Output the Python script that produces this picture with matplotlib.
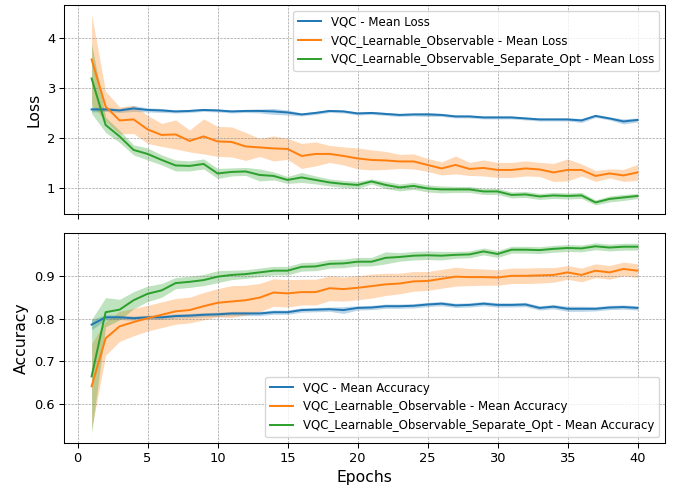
import numpy as np
import matplotlib.pyplot as plt

epochs = np.arange(1, 41)

# mean / std loss per model
vqc_loss = [2.57, 2.57, 2.55, 2.59, 2.56, 2.55, 2.53, 2.54, 2.56, 2.55,
            2.53, 2.54, 2.54, 2.53, 2.51, 2.47, 2.50, 2.54, 2.53, 2.49,
            2.50, 2.48, 2.46, 2.47, 2.47, 2.46, 2.43, 2.43, 2.41, 2.41,
            2.41, 2.39, 2.37, 2.37, 2.37, 2.35, 2.44, 2.39, 2.33, 2.36]
vqc_loss_std = [0.05, 0.04, 0.04, 0.06, 0.04, 0.04, 0.03, 0.03, 0.03, 0.03,
                0.03, 0.03, 0.04, 0.06, 0.05, 0.03, 0.03, 0.03, 0.03, 0.03,
                0.03, 0.03, 0.03, 0.03, 0.04, 0.03, 0.03, 0.03, 0.03, 0.03,
                0.03, 0.03, 0.03, 0.03, 0.03, 0.04, 0.03, 0.03, 0.05, 0.04]

lo_loss = [3.57, 2.63, 2.35, 2.37, 2.17, 2.06, 2.07, 1.94, 2.03, 1.93,
           1.92, 1.83, 1.81, 1.79, 1.78, 1.64, 1.68, 1.68, 1.64, 1.59,
           1.56, 1.55, 1.53, 1.53, 1.46, 1.39, 1.46, 1.38, 1.40, 1.36,
           1.36, 1.39, 1.37, 1.31, 1.36, 1.36, 1.24, 1.29, 1.25, 1.31]
lo_loss_std = [0.90, 0.30, 0.27, 0.28, 0.28, 0.23, 0.29, 0.22, 0.35, 0.30,
               0.30, 0.28, 0.18, 0.25, 0.21, 0.25, 0.24, 0.17, 0.18, 0.21,
               0.20, 0.18, 0.14, 0.15, 0.13, 0.13, 0.18, 0.13, 0.16, 0.15,
               0.15, 0.15, 0.14, 0.18, 0.22, 0.12, 0.11, 0.09, 0.12, 0.16]

los_loss = [3.19, 2.26, 2.03, 1.76, 1.68, 1.56, 1.45, 1.44, 1.48, 1.29,
            1.32, 1.33, 1.26, 1.24, 1.16, 1.21, 1.16, 1.11, 1.08, 1.06,
            1.13, 1.06, 1.01, 1.04, 0.99, 0.97, 0.97, 0.97, 0.93, 0.93,
            0.86, 0.87, 0.83, 0.85, 0.84, 0.85, 0.71, 0.78, 0.81, 0.84]
los_loss_std = [0.70, 0.15, 0.12, 0.10, 0.12, 0.10, 0.11, 0.10, 0.10, 0.10,
                0.08, 0.08, 0.12, 0.08, 0.07, 0.10, 0.08, 0.07, 0.07, 0.07,
                0.05, 0.07, 0.07, 0.07, 0.07, 0.07, 0.06, 0.06, 0.06, 0.06,
                0.06, 0.06, 0.06, 0.06, 0.06, 0.06, 0.05, 0.06, 0.06, 0.05]

# mean / std accuracy per model
vqc_acc = [0.786, 0.803, 0.803, 0.801, 0.803, 0.803, 0.806, 0.807, 0.809, 0.810,
           0.812, 0.812, 0.812, 0.815, 0.815, 0.820, 0.821, 0.822, 0.820, 0.825,
           0.826, 0.829, 0.829, 0.830, 0.833, 0.835, 0.831, 0.832, 0.835, 0.832,
           0.832, 0.833, 0.825, 0.828, 0.823, 0.823, 0.823, 0.826, 0.827, 0.825]
vqc_acc_std = [0.012, 0.006, 0.005, 0.005, 0.005, 0.005, 0.005, 0.005, 0.005, 0.005,
               0.005, 0.005, 0.005, 0.005, 0.005, 0.005, 0.005, 0.005, 0.008, 0.005,
               0.005, 0.005, 0.005, 0.005, 0.005, 0.005, 0.005, 0.005, 0.005, 0.005,
               0.005, 0.005, 0.005, 0.005, 0.006, 0.006, 0.005, 0.005, 0.005, 0.005]

lo_acc = [0.642, 0.754, 0.782, 0.792, 0.801, 0.809, 0.817, 0.820, 0.829, 0.837,
          0.840, 0.843, 0.849, 0.861, 0.859, 0.862, 0.862, 0.871, 0.869, 0.872,
          0.876, 0.880, 0.882, 0.887, 0.888, 0.893, 0.898, 0.897, 0.897, 0.896,
          0.900, 0.900, 0.901, 0.902, 0.908, 0.902, 0.912, 0.908, 0.916, 0.912]
lo_acc_std = [0.100, 0.040, 0.035, 0.032, 0.030, 0.030, 0.030, 0.030, 0.032, 0.033,
              0.037, 0.035, 0.033, 0.032, 0.032, 0.030, 0.030, 0.029, 0.028, 0.028,
              0.028, 0.026, 0.024, 0.023, 0.022, 0.022, 0.022, 0.020, 0.019, 0.018,
              0.018, 0.018, 0.018, 0.017, 0.016, 0.016, 0.016, 0.016, 0.016, 0.016]

los_acc = [0.665, 0.815, 0.821, 0.843, 0.858, 0.866, 0.883, 0.886, 0.890, 0.898,
           0.902, 0.904, 0.908, 0.912, 0.912, 0.921, 0.922, 0.928, 0.929, 0.933,
           0.933, 0.942, 0.944, 0.947, 0.948, 0.947, 0.949, 0.950, 0.957, 0.951,
           0.961, 0.961, 0.960, 0.963, 0.965, 0.964, 0.969, 0.966, 0.968, 0.968]
los_acc_std = [0.133, 0.034, 0.024, 0.020, 0.018, 0.016, 0.013, 0.013, 0.013, 0.014,
               0.011, 0.010, 0.010, 0.010, 0.010, 0.010, 0.010, 0.010, 0.010, 0.010,
               0.010, 0.014, 0.010, 0.010, 0.010, 0.010, 0.008, 0.008, 0.008, 0.008,
               0.008, 0.008, 0.008, 0.008, 0.008, 0.008, 0.008, 0.008, 0.008, 0.008]

names = ["VQC", "VQC_Learnable_Observable", "VQC_Learnable_Observable_Separate_Opt"]
loss = [(vqc_loss, vqc_loss_std), (lo_loss, lo_loss_std), (los_loss, los_loss_std)]
acc = [(vqc_acc, vqc_acc_std), (lo_acc, lo_acc_std), (los_acc, los_acc_std)]
colors = ["C0", "C1", "C2"]

fig, (ax1, ax2) = plt.subplots(2, 1, figsize=(677 / 94, 491 / 94), dpi=94, sharex=True)
fig.subplots_adjust(left=0.095, right=0.982, top=0.990, bottom=0.098, hspace=0.09)

for ax, data, what in [(ax1, loss, "Loss"), (ax2, acc, "Accuracy")]:
    for name, (m, s), c in zip(names, data, colors):
        m = np.array(m); s = np.array(s)
        ax.plot(epochs, m, color=c, lw=1.5, label=f"{name} - Mean {what}")
        ax.fill_between(epochs, m - s, m + s, color=c, alpha=0.3, lw=0)
    ax.set_ylabel(what, fontsize=12)
    ax.grid(True, linestyle="--", color="gray", alpha=0.8, lw=0.5)
    ax.tick_params(labelsize=10)

ax1.legend(loc="upper right", fontsize=9)
ax2.legend(loc="lower right", fontsize=9)
ax2.set_xlabel("Epochs", fontsize=12)

fig.savefig("out.png", dpi=94)
